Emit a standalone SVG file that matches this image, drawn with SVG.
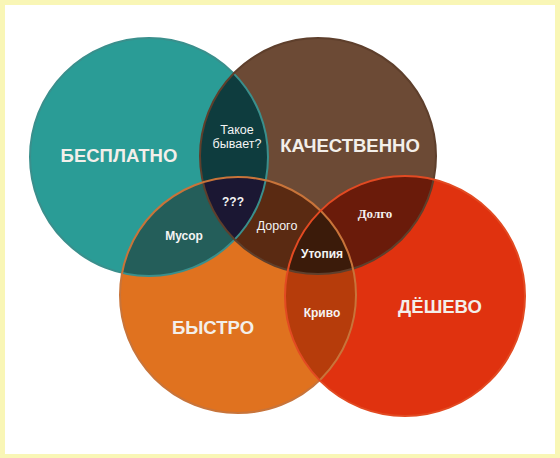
<svg xmlns="http://www.w3.org/2000/svg" width="560" height="458" viewBox="0 0 560 458">
<style>
.big{font-family:"Liberation Sans",Arial,sans-serif;font-weight:bold;font-size:18.5px;fill:#f3efea;text-anchor:middle}
.sm{font-family:"Liberation Sans",Arial,sans-serif;font-size:12.5px;fill:#f4f4f4;text-anchor:middle}
.smb{font-family:"Liberation Sans",Arial,sans-serif;font-weight:bold;font-size:12px;fill:#f4f4f4;text-anchor:middle}
.ser{font-family:"Liberation Serif","Times New Roman",serif;font-weight:bold;font-size:13px;fill:#f4f0ee;text-anchor:middle}
.ol{fill:none;stroke-width:2}
</style>
<defs>
<clipPath id="cT"><circle cx="149" cy="157" r="119"/></clipPath>
<clipPath id="cB"><circle cx="318" cy="156" r="118"/></clipPath>
<clipPath id="cO"><circle cx="238" cy="295" r="118"/></clipPath>
<clipPath id="cR"><circle cx="405" cy="296" r="120"/></clipPath>
</defs>
<rect width="560" height="458" fill="#f9f6b6"/>
<rect x="5" y="5" width="550" height="449" fill="#ffffff"/>
<g id="circles">
<g id="teal"><circle cx="149" cy="157" r="119" fill="#2a9c96"/></g>
<g id="brown"><circle cx="318" cy="156" r="118" fill="#6c4a35"/></g>
<g id="orange"><circle cx="238" cy="295" r="118" fill="#e0721f"/></g>
<g id="red"><circle cx="405" cy="296" r="120" fill="#e0320f"/></g>
</g>
<g id="overlaps">
<g clip-path="url(#cT)"><circle cx="318" cy="156" r="118" fill="#0e3c3e"/></g>
<g clip-path="url(#cT)"><circle cx="238" cy="295" r="118" fill="#245e5a"/></g>
<g clip-path="url(#cB)"><circle cx="238" cy="295" r="118" fill="#5a2a12"/></g>
<g clip-path="url(#cB)"><circle cx="405" cy="296" r="120" fill="#6a1b0a"/></g>
<g clip-path="url(#cO)"><circle cx="405" cy="296" r="120" fill="#b63c0b"/></g>
<g clip-path="url(#cT)"><g clip-path="url(#cB)"><circle cx="238" cy="295" r="118" fill="#1b1733"/></g></g>
<g clip-path="url(#cB)"><g clip-path="url(#cO)"><circle cx="405" cy="296" r="120" fill="#3b1b0a"/></g></g>
</g>
<g id="outlines">
<circle class="ol" cx="149" cy="157" r="119" stroke="#3a8f8c"/>
<circle class="ol" cx="318" cy="156" r="118" stroke="#5e3f2c" stroke-width="1"/>
<circle class="ol" cx="238" cy="295" r="118" stroke="#c8743a"/>
<circle class="ol" cx="405" cy="296" r="120" stroke="#e24a22"/>
</g>
<g id="labels">
<text class="big" x="119" y="162">БЕСПЛАТНО</text>
<text class="big" x="350" y="152">КАЧЕСТВЕННО</text>
<text class="big" x="213" y="334">БЫСТРО</text>
<text class="big" x="440" y="313">ДЁШЕВО</text>
<text class="sm" x="237" y="134">Такое</text>
<text class="sm" x="237" y="148">бывает?</text>
<text class="smb" x="233" y="206">???</text>
<text class="smb" x="184" y="240">Мусор</text>
<text class="sm" x="277" y="230">Дорого</text>
<text class="smb" x="322" y="258">Утопия</text>
<text class="ser" x="375" y="218">Долго</text>
<text class="smb" x="322" y="317">Криво</text>
</g>
</svg>
